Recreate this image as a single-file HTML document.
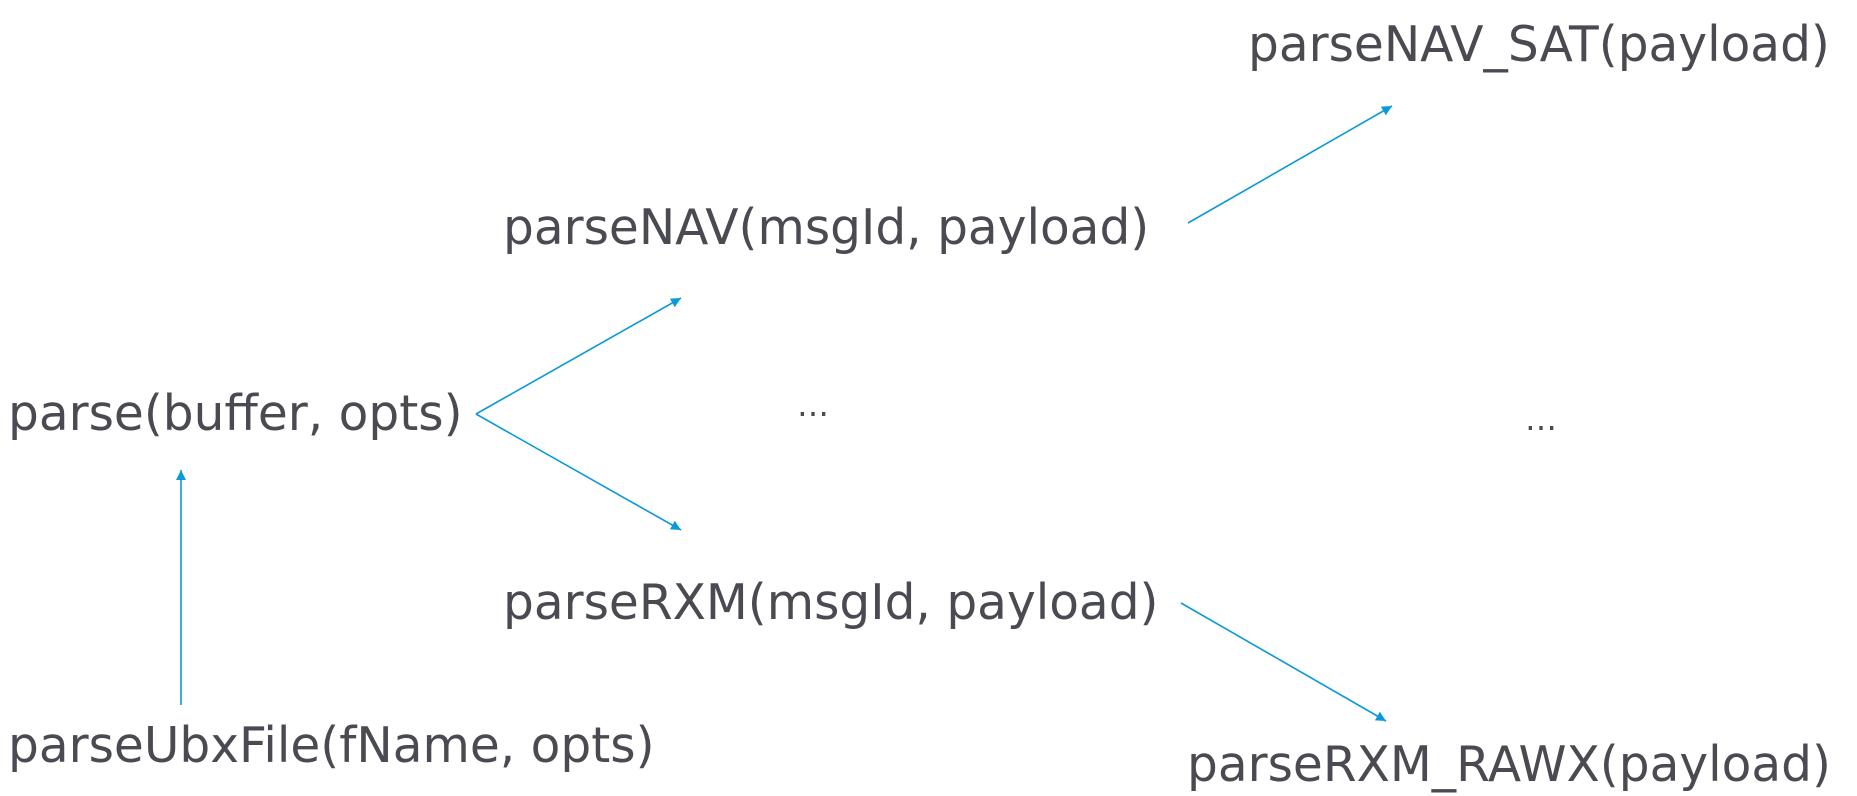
<!DOCTYPE html>
<html><head><meta charset="utf-8"><style>
html,body{margin:0;padding:0;background:#fff;}
svg{display:block;}
text{font-family:"DejaVu Sans","Liberation Sans",sans-serif;fill:#4a4b52;font-size:48.6px;dominant-baseline:central;}
</style></head><body>
<svg width="1857" height="796" viewBox="0 0 1857 796" xmlns="http://www.w3.org/2000/svg">
<defs>
<marker id="a" viewBox="0 0 10 10" refX="10" refY="5" markerWidth="10" markerHeight="10" markerUnits="userSpaceOnUse" orient="auto">
<path d="M0,0 L10,5 L0,10 z" fill="#0b9ad9"/>
</marker>
</defs>
<g stroke="#0b9ad9" stroke-width="1.6" fill="none" marker-end="url(#a)">
<line x1="476" y1="414" x2="681" y2="298"/>
<line x1="476" y1="414" x2="681" y2="530"/>
<line x1="181" y1="705" x2="181" y2="470"/>
<line x1="1188" y1="223" x2="1392" y2="106"/>
<line x1="1181" y1="603" x2="1386" y2="721"/>
</g>
<text x="1248" y="45">parseNAV_SAT(payload)</text>
<text x="503" y="228">parseNAV(msgId, payload)</text>
<text x="8" y="414">parse(buffer, opts)</text>
<text x="503" y="603">parseRXM(msgId, payload)</text>
<text x="8" y="746">parseUbxFile(fName, opts)</text>
<text x="1187" y="765">parseRXM_RAWX(payload)</text>
<text x="797" y="405" style="font-size:32px">…</text>
<text x="1525" y="419" style="font-size:32px">…</text>
</svg>
</body></html>
